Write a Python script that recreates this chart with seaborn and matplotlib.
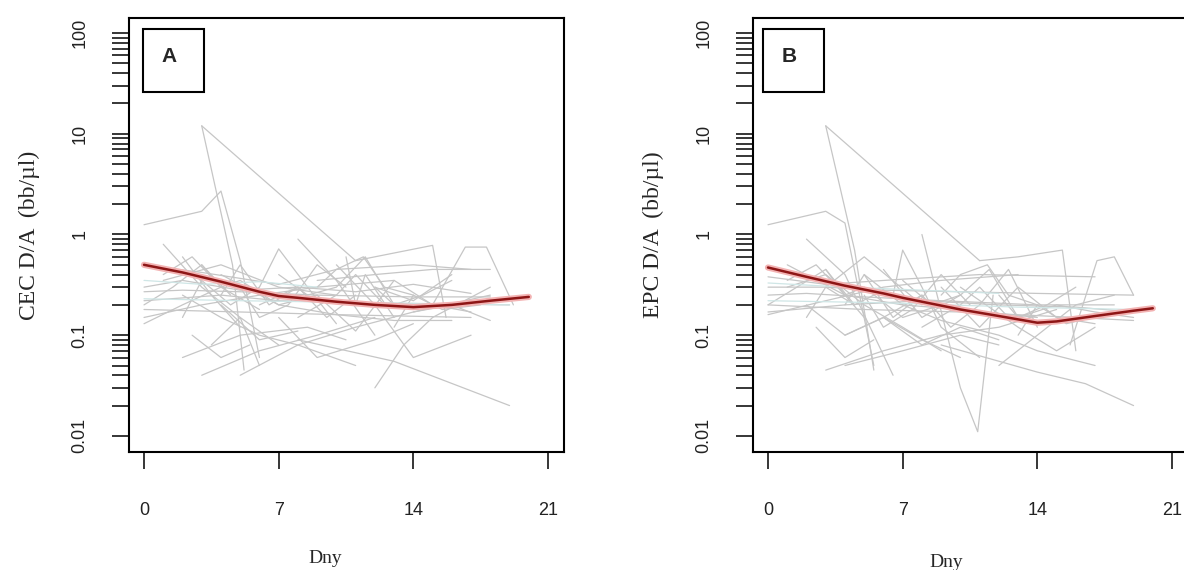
import numpy as np
import pandas as pd
import matplotlib
matplotlib.use("Agg")
import matplotlib.pyplot as plt
import matplotlib.ticker as mticker
from matplotlib.patches import Rectangle
import seaborn as sns

# ---------------- data ----------------
# Panel A individual trajectories (day, value)
a_days = [
    [0, 3, 4, 5, 6], [3, 11], [3, 4.6, 5.2],
    [0, 3, 7, 10, 14, 17], [0, 2, 5, 8, 11, 14, 17], [0, 4, 7, 11, 19],
    [0, 3, 6, 9, 13], [0, 2, 4, 6], [1, 3, 5, 7], [2, 5, 8.5, 10.5],
    [8, 13, 19], [8, 10, 12], [11, 15, 15.7], [15, 16.7, 17.8, 19.2],
    [6, 7, 8.5, 10], [10, 12, 14, 17], [12, 13.5, 15, 18], [5, 8, 11, 14, 18],
    [3, 6, 9, 12], [4, 7, 10, 13, 16], [1, 4, 7, 10], [4, 6, 8],
    [9, 11, 13, 15, 17], [2, 4, 6, 8, 11], [14, 16, 18], [0, 5, 10, 17],
    [9, 12, 15, 18], [7, 9, 12, 14], [2, 3.5, 5], [12, 14, 16],
    [0, 1.5, 3, 4.5], [1, 2.5, 4], [2, 3, 4.5, 6], [3, 4, 5, 7, 9],
    [4, 5, 6.5, 8], [5, 6, 7.5, 9, 10.5], [6, 8, 9.5, 11], [7, 8.5, 10, 11.5, 13],
    [8, 10, 11, 12.5], [10.5, 11, 11.5, 13], [12, 13, 14.5, 16], [13, 14, 15.5, 17.5],
    [2.5, 4, 5.5], [3.5, 5, 6], [0, 2, 5, 9, 14, 18], [9, 10, 11.4, 12.5, 14],
]
a_vals = [
    [1.25, 1.7, 2.7, 0.55, 0.06], [12, 0.55], [12, 0.5, 0.045],
    [0.5, 0.42, 0.32, 0.45, 0.5, 0.45], [0.3, 0.35, 0.28, 0.3, 0.27, 0.32, 0.26], [0.22, 0.25, 0.22, 0.21, 0.2],
    [0.15, 0.2, 0.25, 0.3, 0.35], [0.13, 0.2, 0.3, 0.18], [0.8, 0.3, 0.15, 0.08], [0.06, 0.1, 0.12, 0.09],
    [0.09, 0.055, 0.02], [0.9, 0.35, 0.1], [0.55, 0.78, 0.15], [0.2, 0.75, 0.75, 0.2],
    [0.3, 0.72, 0.3, 0.13], [0.5, 0.2, 0.06, 0.1], [0.03, 0.08, 0.15, 0.3], [0.04, 0.08, 0.12, 0.17, 0.25],
    [0.04, 0.07, 0.1, 0.15], [0.4, 0.2, 0.16, 0.14, 0.14], [0.35, 0.5, 0.3, 0.25], [0.2, 0.09, 0.11],
    [0.25, 0.11, 0.35, 0.2, 0.17], [0.25, 0.15, 0.1, 0.08, 0.05], [0.17, 0.2, 0.14], [0.18, 0.17, 0.16, 0.15],
    [0.35, 0.4, 0.45, 0.45], [0.15, 0.06, 0.09, 0.13], [0.6, 0.25, 0.12], [0.3, 0.22, 0.4],
    [0.2, 0.3, 0.5, 0.25], [0.4, 0.6, 0.3], [0.15, 0.35, 0.2, 0.3], [0.5, 0.3, 0.35, 0.2, 0.25],
    [0.25, 0.5, 0.2, 0.3], [0.3, 0.15, 0.2, 0.5, 0.3], [0.2, 0.3, 0.15, 0.25], [0.4, 0.25, 0.3, 0.6, 0.2],
    [0.15, 0.25, 0.4, 0.2], [0.6, 0.2, 0.4, 0.15], [0.3, 0.2, 0.25, 0.35], [0.12, 0.25, 0.18, 0.2],
    [0.1, 0.06, 0.08], [0.08, 0.15, 0.05], [0.27, 0.28, 0.27, 0.25, 0.24, 0.24], [0.3, 0.45, 0.6, 0.3, 0.25],
]
a_pale_days = [[0, 3, 6, 9], [0, 5, 12, 19]]
a_pale_vals = [[0.35, 0.32, 0.34, 0.3], [0.23, 0.22, 0.21, 0.2]]
a_trend_days = [0, 2, 4, 6, 7, 8, 10, 12, 14, 16, 18, 20]
a_trend_vals = [0.50, 0.42, 0.34, 0.27, 0.245, 0.235, 0.215, 0.20, 0.19, 0.20, 0.22, 0.24]

# Panel B individual trajectories
b_days = [
    [0, 3, 4, 5.5], [3, 11], [3, 4.5, 5.5], [2, 4, 6.5],
    [0, 3, 7, 11, 17], [0, 3, 6, 10, 14, 19], [0, 4, 8, 12, 16, 19], [0, 3, 6, 9, 13],
    [1, 3, 5, 7, 9], [6.5, 7, 8, 9, 11], [8, 10, 10.9, 11.7], [11, 13, 15.3, 16],
    [15.7, 17.1, 18, 19], [9, 14, 16.5, 19], [3, 6, 9, 12, 15], [4, 7, 10, 12],
    [9, 11, 13, 15, 17], [12, 14, 16, 18], [10, 13, 15, 17], [2, 4, 6, 8, 10],
    [1, 4, 7, 10, 14], [0, 5, 10, 16, 19], [5, 7, 9, 12, 14, 17], [3, 5, 8],
    [13, 15, 17, 19], [6, 8, 10], [11, 12.5, 14],
    [0, 1.5, 3, 4.5], [1, 2.5, 4, 5], [2, 3, 4.5, 6], [3, 4, 5, 7, 9],
    [4, 5, 6.5, 8], [5, 6, 7.5, 9, 10.5], [6, 8, 9.5, 11], [7, 8.5, 10, 11.5, 13],
    [8, 10, 11, 12.5], [12, 13, 14.5, 16], [13, 14, 15.5, 17.5], [2.5, 4, 5.5],
    [0, 2, 5, 9, 14, 18], [9, 10, 11.4, 12.5, 14], [4, 6, 8, 10, 12],
]
b_vals = [
    [1.25, 1.7, 1.3, 0.05], [12, 0.55], [12, 0.7, 0.045], [0.9, 0.4, 0.04],
    [0.38, 0.32, 0.36, 0.4, 0.38], [0.3, 0.3, 0.28, 0.27, 0.26, 0.25], [0.17, 0.2, 0.22, 0.2, 0.19, 0.17], [0.16, 0.22, 0.3, 0.35, 0.4],
    [0.3, 0.4, 0.2, 0.12, 0.07], [0.25, 0.7, 0.3, 0.12, 0.06], [1.0, 0.03, 0.011, 0.25], [0.55, 0.6, 0.7, 0.07],
    [0.08, 0.55, 0.6, 0.25], [0.08, 0.043, 0.033, 0.02], [0.045, 0.07, 0.1, 0.12, 0.18], [0.05, 0.07, 0.1, 0.08],
    [0.3, 0.12, 0.3, 0.15, 0.13], [0.05, 0.1, 0.2, 0.25], [0.3, 0.12, 0.07, 0.12], [0.2, 0.1, 0.15, 0.09, 0.06],
    [0.5, 0.25, 0.2, 0.18, 0.15], [0.2, 0.18, 0.17, 0.15, 0.14], [0.4, 0.2, 0.14, 0.1, 0.07, 0.05], [0.3, 0.6, 0.2],
    [0.15, 0.2, 0.17, 0.15], [0.45, 0.15, 0.25], [0.2, 0.45, 0.12],
    [0.2, 0.3, 0.45, 0.2], [0.35, 0.5, 0.25, 0.15], [0.15, 0.3, 0.2, 0.28], [0.45, 0.25, 0.3, 0.15, 0.2],
    [0.2, 0.4, 0.15, 0.25], [0.25, 0.12, 0.18, 0.4, 0.2], [0.15, 0.25, 0.12, 0.2], [0.35, 0.2, 0.25, 0.45, 0.15],
    [0.12, 0.2, 0.3, 0.15], [0.25, 0.15, 0.2, 0.3], [0.1, 0.2, 0.13, 0.16], [0.12, 0.06, 0.09],
    [0.25, 0.26, 0.24, 0.22, 0.2, 0.2], [0.25, 0.4, 0.5, 0.25, 0.2], [0.1, 0.15, 0.08, 0.12, 0.09],
]
b_pale_days = [[0, 4, 8, 12], [0, 6, 13, 19]]
b_pale_vals = [[0.33, 0.3, 0.28, 0.26], [0.22, 0.21, 0.19, 0.18]]
b_trend_days = [0, 2, 4, 6, 7, 8, 10, 12, 14, 15, 17, 19, 20]
b_trend_vals = [0.47, 0.38, 0.31, 0.26, 0.235, 0.215, 0.18, 0.155, 0.133, 0.137, 0.155, 0.175, 0.185]

x_ticks = [0, 7, 14, 21]
y_ticks = [0.01, 0.1, 1, 10, 100]
y_ticklabels = ["0.01", "0.1", "1", "10", "100"]
panel_letters = ["A", "B"]
y_labels = ["CEC D/A  (bb/\u00b5l)", "EPC D/A  (bb/\u00b5l)"]
x_label = "Dny"


def long_df(days, vals):
    rows = []
    for i, (d, v) in enumerate(zip(days, vals)):
        for dd, vv in zip(d, v):
            rows.append((i, dd, vv))
    return pd.DataFrame(rows, columns=["id", "day", "val"])


sns.set_style("white")
plt.rcParams["font.family"] = ["Liberation Sans", "DejaVu Sans"]

W, H = 1184, 570
fig = plt.figure(figsize=(W / 100, H / 100), dpi=100)

GRAY = "#c6c6c6"
PALE = "#cfe6e6"

minor_ticks = [m * 10.0 ** e for e in range(-2, 2) for m in range(2, 10)]

panels = [
    (129, a_days, a_vals, a_pale_days, a_pale_vals, a_trend_days, a_trend_vals, (0.45, -0.225)),
    (753, b_days, b_vals, b_pale_days, b_pale_vals, b_trend_days, b_trend_vals, (0.444, -0.235)),
]

for k, (left_px, dys, vls, pd_, pv_, td, tv, xl_pos) in enumerate(panels):
    ax = fig.add_axes([left_px / W, (H - 452) / H, 435 / W, 434 / H])
    df = long_df(dys, vls)
    sns.lineplot(data=df, x="day", y="val", units="id", estimator=None, sort=False,
                 color=GRAY, lw=0.9, ax=ax, legend=False)
    dfp = long_df(pd_, pv_)
    sns.lineplot(data=dfp, x="day", y="val", units="id", estimator=None, sort=False,
                 color=PALE, lw=0.9, ax=ax, legend=False)
    dft = pd.DataFrame({"day": td, "val": tv})
    sns.lineplot(data=dft, x="day", y="val", color="#f3b3b3", lw=4.5, ax=ax, legend=False,
                 estimator=None)
    sns.lineplot(data=dft, x="day", y="val", color="#8e1616", lw=1.8, ax=ax, legend=False,
                 estimator=None)

    ax.set_yscale("log")
    ax.set_xlim(-0.78, 21.83)
    ax.set_ylim(10 ** -2.16, 10 ** 2.15)
    ax.xaxis.set_major_locator(mticker.FixedLocator(x_ticks))
    ax.xaxis.set_major_formatter(mticker.FixedFormatter([str(t) for t in x_ticks]))
    ax.yaxis.set_major_locator(mticker.FixedLocator(y_ticks))
    ax.yaxis.set_major_formatter(mticker.FixedFormatter(y_ticklabels))
    ax.yaxis.set_minor_locator(mticker.FixedLocator(minor_ticks))
    ax.yaxis.set_minor_formatter(mticker.NullFormatter())

    for s in ax.spines.values():
        s.set_linewidth(1.5)
        s.set_color("black")

    ax.tick_params(axis="both", which="both", direction="out", length=12, width=1.1,
                   color="black", left=True, bottom=True, right=False, top=False)
    ax.tick_params(axis="x", which="major", pad=24, labelsize=13, labelcolor="#222222")
    ax.tick_params(axis="y", which="major", pad=17, labelsize=13, labelcolor="#222222",
                   labelrotation=90)
    for lab in ax.get_yticklabels():
        lab.set_verticalalignment("center")

    ax.set_xlabel(x_label, family=["Liberation Serif", "DejaVu Serif"], fontsize=14)
    ax.xaxis.set_label_coords(*xl_pos)
    ax.set_ylabel(y_labels[k], family=["Liberation Serif", "DejaVu Serif"], fontsize=17)
    ax.yaxis.set_label_coords(-0.205, 0.5)

    bx0 = (143 - 129) / 435 if k == 0 else (763 - 753) / 435
    ax.add_patch(Rectangle((bx0, 0.829), 0.140, 0.146, transform=ax.transAxes,
                           fill=False, lw=1.5, ec="black", clip_on=False, zorder=5))
    ax.text(bx0 + 0.061, 0.912, panel_letters[k], transform=ax.transAxes,
            ha="center", va="center", fontsize=15, fontweight="bold", zorder=6)

fig.savefig("out.png", dpi=100)
